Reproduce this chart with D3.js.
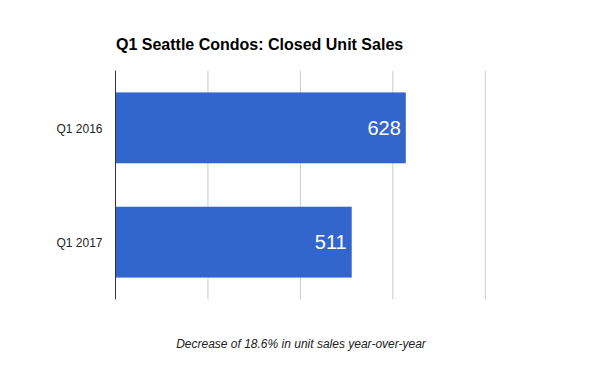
<!DOCTYPE html>
<html>
<head>
<meta charset="utf-8">
<script src="https://cdnjs.cloudflare.com/ajax/libs/d3/7.8.5/d3.min.js"></script>
<style>
  body { margin: 0; background: #fff; }
  text { font-family: "Liberation Sans", Arial, sans-serif; }
</style>
</head>
<body>
<svg id="chart" width="600" height="371"></svg>
<script>
// data
var categories = ["Q1 2016", "Q1 2017"];
var sales = [628, 511];
var gridTicks = [0, 200, 400, 600, 800];
var title = "Q1 Seattle Condos: Closed Unit Sales";
var caption = "Decrease of 18.6% in unit sales year-over-year";

var svg = d3.select("#chart");
var margin = {left: 115.5, right: 114.7, top: 70.7, bottom: 71.7};
var width = 600 - margin.left - margin.right,
    height = 371 - margin.top - margin.bottom;

var x = d3.scaleLinear().domain([0, 800]).range([0, width]);
var y = d3.scaleBand().domain(categories).range([0, height]).paddingInner(0.38).paddingOuter(0.19);

var g = svg.append("g").attr("transform", "translate(" + margin.left + "," + margin.top + ")");

// gridlines
g.selectAll("line.grid")
    .data(gridTicks.slice(1))
    .enter()
    .append("line")
    .attr("class", "grid")
    .attr("x1", function (d) { return x(d) })
    .attr("x2", function (d) { return x(d) })
    .attr("y1", 0)
    .attr("y2", height)
    .attr("stroke", "#cccccc")
    .attr("stroke-width", 1);

// bars
g.selectAll("rect.bar")
    .data(sales)
    .enter()
    .append("rect")
    .attr("class", "bar")
    .attr("x", 0)
    .attr("y", function (d, i) { return y(categories[i]) })
    .attr("width", function (d) { return x(d) })
    .attr("height", y.bandwidth())
    .attr("fill", "#3366cc");

// value labels inside bars
g.selectAll("text.val")
    .data(sales)
    .enter()
    .append("text")
    .attr("class", "val")
    .attr("x", function (d) { return x(d) - 5 })
    .attr("y", function (d, i) { return y(categories[i]) + y.bandwidth() / 2 + 7 })
    .attr("text-anchor", "end")
    .attr("fill", "#ffffff")
    .style("font-size", "20px")
    .text(function (d) { return d });

// category axis
var yAxis = d3.axisLeft(y).tickSize(0).tickPadding(13);
var ya = g.append("g").call(yAxis);
ya.select(".domain").remove();
ya.selectAll("text")
    .attr("dy", "0.42em")
    .style("font-size", "12px")
    .style("font-family", "'Liberation Sans', Arial, sans-serif")
    .attr("fill", "#222222");

// zero baseline
g.append("line")
    .attr("x1", x(0)).attr("x2", x(0))
    .attr("y1", 0).attr("y2", height)
    .attr("stroke", "#333333")
    .attr("stroke-width", 1);

// title
svg.append("text")
    .attr("x", 116)
    .attr("y", 50)
    .style("font-size", "16px")
    .style("font-weight", "bold")
    .attr("fill", "#000")
    .text(title);

// caption
svg.append("text")
    .attr("x", 301)
    .attr("y", 348)
    .attr("text-anchor", "middle")
    .style("font-size", "12px")
    .style("font-style", "italic")
    .attr("fill", "#222222")
    .text(caption);
</script>
</body>
</html>
